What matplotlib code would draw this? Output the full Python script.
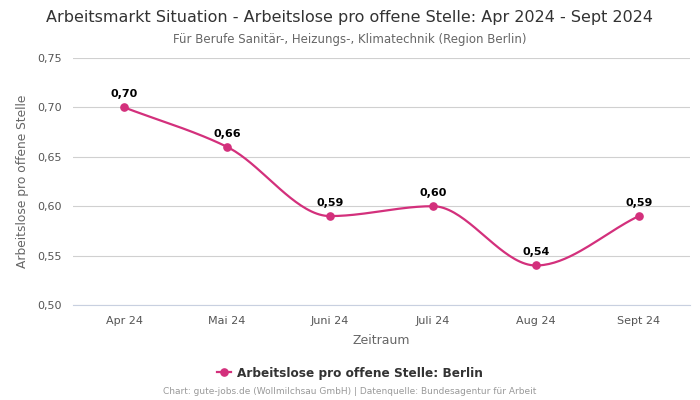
import numpy as np
import matplotlib
matplotlib.use('Agg')
import matplotlib.pyplot as plt

# Daten
monate = ['Apr 24', 'Mai 24', 'Juni 24', 'Juli 24', 'Aug 24', 'Sept 24']
werte = [0.70, 0.66, 0.59, 0.60, 0.54, 0.59]
y_ticks = [0.50, 0.55, 0.60, 0.65, 0.70, 0.75]

farbe = '#d3307c'


# monotone kubische Kurve (nur für die Darstellung der Linie)
def pchip_kurve(x, y, punkte=40):
    x = np.asarray(x, float)
    y = np.asarray(y, float)
    h = np.diff(x)
    delta = np.diff(y) / h
    n = len(x)
    d = np.zeros(n)
    for k in range(1, n - 1):
        if delta[k - 1] * delta[k] > 0:
            w1 = 2 * h[k] + h[k - 1]
            w2 = h[k] + 2 * h[k - 1]
            d[k] = (w1 + w2) / (w1 / delta[k - 1] + w2 / delta[k])
    d[0] = delta[0]
    d[-1] = delta[-1]
    xs, ys = [], []
    for k in range(n - 1):
        t = np.linspace(0, 1, punkte)
        h00 = 2 * t**3 - 3 * t**2 + 1
        h10 = t**3 - 2 * t**2 + t
        h01 = -2 * t**3 + 3 * t**2
        h11 = t**3 - t**2
        xs.append(x[k] + t * h[k])
        ys.append(h00 * y[k] + h10 * h[k] * d[k] + h01 * y[k + 1] + h11 * h[k] * d[k + 1])
    return np.concatenate(xs), np.concatenate(ys)


fig = plt.figure(figsize=(7, 4), dpi=100)
ax = fig.add_axes([0.104, 0.2375, 0.882, 0.6175])

pos = np.arange(len(monate))
kx, ky = pchip_kurve(pos, werte)
ax.plot(kx, ky, color=farbe, linewidth=1.6, zorder=3)
ax.plot(pos, werte, 'o', color=farbe, markersize=5.2, zorder=4)
ax.plot([], [], '-o', color=farbe, markersize=5.2, linewidth=1.6,
        label='Arbeitslose pro offene Stelle: Berlin')

for xi, yi in zip(pos, werte):
    ax.annotate(f'{yi:.2f}'.replace('.', ','), (xi, yi), xytext=(0, 6),
                textcoords='offset points', ha='center', va='bottom',
                fontsize=8, fontweight='bold', color='black')

ax.set_xlim(-0.5, len(monate) - 0.5)
ax.set_ylim(0.50, 0.75)
ax.set_yticks(y_ticks)
ax.set_yticklabels([f'{v:.2f}'.replace('.', ',') for v in y_ticks])
ax.set_xticks(pos)
ax.set_xticklabels(monate)
ax.tick_params(axis='both', length=0, labelsize=8, colors='#555555', pad=8)
ax.grid(axis='y', color='#d0d0d0', linewidth=0.8)
ax.set_axisbelow(True)
for s in ax.spines.values():
    s.set_visible(False)
ax.axhline(0.50, color='#c8d0e0', linewidth=0.8, zorder=1, clip_on=False)

ax.set_xlabel('Zeitraum', fontsize=9, color='#666666', labelpad=6)
ax.set_ylabel('Arbeitslose pro offene Stelle', fontsize=8.8, color='#666666', labelpad=6)

fig.text(0.5, 0.957, 'Arbeitsmarkt Situation - Arbeitslose pro offene Stelle: Apr 2024 - Sept 2024',
         ha='center', va='center', fontsize=11.5, color='#333333')
fig.text(0.5, 0.902, 'Für Berufe Sanitär-, Heizungs-, Klimatechnik (Region Berlin)',
         ha='center', va='center', fontsize=8.5, color='#666666')

leg = fig.legend(loc='center', bbox_to_anchor=(0.5, 0.067), frameon=False,
                 fontsize=8.7, handlelength=1.2, handletextpad=0.5)
for t in leg.get_texts():
    t.set_fontweight('bold')
    t.set_color('#333333')

fig.text(0.5, 0.02, 'Chart: gute-jobs.de (Wollmilchsau GmbH) | Datenquelle: Bundesagentur für Arbeit',
         ha='center', va='center', fontsize=6.5, color='#999999')

fig.savefig('out.png', dpi=100)
